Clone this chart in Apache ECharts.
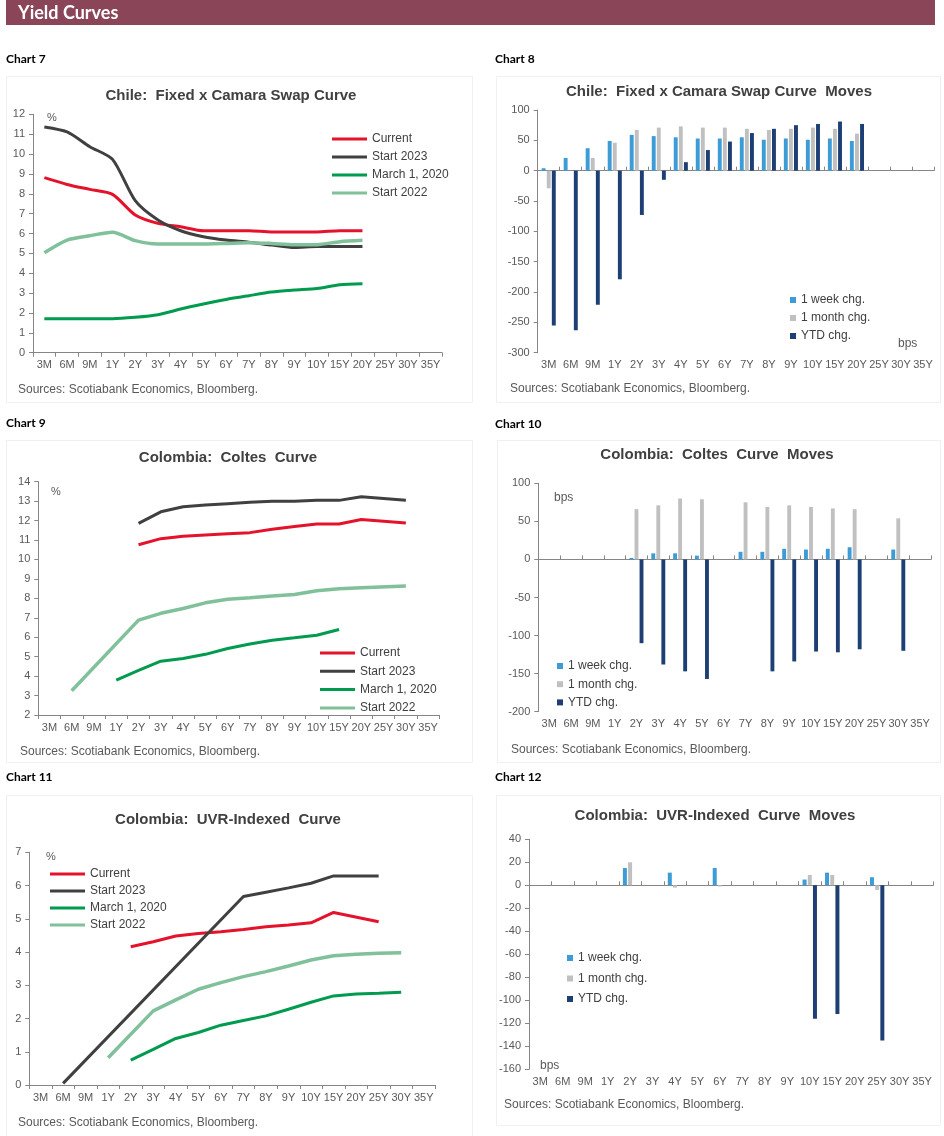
<!DOCTYPE html>
<html>
<head>
<meta charset="utf-8">
<script src="https://cdn.jsdelivr.net/npm/echarts@6/dist/echarts.min.js"></script>
<style>
html,body{margin:0;padding:0;background:#fff;}
#c{width:944px;height:1136px;}
</style>
</head>
<body>
<div id="c"></div>
<script>
// ---------- DATA ----------
const tenors = ['3M','6M','9M','1Y','2Y','3Y','4Y','5Y','6Y','7Y','8Y','9Y','10Y','15Y','20Y','25Y','30Y','35Y'];
const lineNames = ['Current','Start 2023','March 1, 2020','Start 2022'];
const barNames = ['1 week chg.','1 month chg.','YTD chg.'];

// Chart 7: Chile Fixed x Camara swap curve (%)
const chileCurrent  = [8.81,8.47,8.22,7.97,6.93,6.51,6.34,6.14,6.14,6.14,6.08,6.08,6.08,6.14,6.14];
const chileStart23  = [11.36,11.11,10.37,9.73,7.65,6.68,6.14,5.84,5.67,5.56,5.42,5.29,5.34,5.34,5.34];
const chileMarch20  = [1.71,1.71,1.71,1.71,1.78,1.91,2.2,2.45,2.68,2.87,3.05,3.15,3.23,3.42,3.47];
const chileStart22  = [5.03,5.67,5.89,6.06,5.64,5.47,5.47,5.47,5.5,5.54,5.5,5.44,5.44,5.59,5.66];

// Chart 8: Chile swap curve moves (bps)
const chileWeek  = [4,21,37,49,59,57,55,53,53,55,51,53,51,53,49];
const chileMonth = [-29,0,21,46,67,71,73,71,71,69,67,69,71,69,61];
const chileYTD   = [-255,-263,-221,-179,-73,-15,14,34,48,62,69,75,77,81,77];

// Chart 9: Colombia Coltes curve (%)
const coltesCurrent = [null,null,null,null,10.76,11.07,11.2,11.26,11.32,11.38,11.55,11.7,11.82,11.82,12.06,null,11.87];
const coltesStart23 = [null,null,null,null,11.86,12.45,12.71,12.8,12.87,12.94,12.99,13.0,13.04,13.04,13.23,null,13.04];
const coltesMarch20 = [null,null,null,3.8,4.3,4.77,4.91,5.12,5.42,5.65,5.85,5.97,6.1,6.4];
const coltesStart22 = [null,3.25,null,null,6.88,7.23,7.48,7.77,7.95,8.03,8.12,8.2,8.39,8.49,8.55,null,8.63];

// Chart 10: Coltes curve moves (bps)
const coltesWeek  = [null,null,null,null,2,8,8,5,null,10,10,14,13,14,16,null,13];
const coltesMonth = [null,null,null,null,66,71,80,79,null,75,69,71,69,67,66,null,54];
const coltesYTD   = [null,null,null,null,-110,-138,-147,-157,null,null,-147,-134,-121,-122,-118,null,-120];

// Chart 11: Colombia UVR-indexed curve (%)
const uvrCurrent = [null,null,null,null,4.16,4.31,4.48,4.56,4.61,4.68,4.76,4.81,4.88,5.19,null,4.91];
const uvrStart23 = [null,0.05,null,null,null,null,null,null,null,5.67,5.8,5.93,6.07,6.29,6.29,6.29];
const uvrMarch20 = [null,null,null,null,0.75,1.07,1.4,1.58,1.8,1.94,2.08,2.28,2.49,2.68,2.74,2.76,2.79];
const uvrStart22 = [null,null,null,0.82,null,2.23,2.56,2.88,3.08,3.26,3.41,3.58,3.76,3.89,3.93,3.96,3.98];

// Chart 12: UVR curve moves (bps)
const uvrWeek  = [null,null,null,null,15,null,11,null,15,null,null,null,5,11,null,7];
const uvrMonth = [null,null,null,null,20,null,-2,null,-1,null,null,null,9,9,null,-4];
const uvrYTD   = [null,null,null,null,null,null,null,null,null,null,null,null,-116,-112,null,-135];

// ---------- STYLE ----------
const lineColors = ['#e4132b','#404040','#009b4e','#80c09a'];
const barColors = ['#3d9bd6','#c0c0c0','#1d3f73'];
const FONT = '"Liberation Sans", Arial, sans-serif';
const axisColor = '#868686';
const labelColor = '#595959';
const textColor = '#404040';

const grids = [
  {left:33,   top:114.3, width:409,   height:238.4},
  {left:537.7,top:110,   width:396.3, height:242.7},
  {left:38.3, top:481.7, width:401,   height:233.3},
  {left:538.3,top:483.3, width:392.7, height:228.4},
  {left:29.3, top:852.3, width:405.7, height:232.7},
  {left:529,  top:839.3, width:404.3, height:230}
];

const xAxes = [];
const yAxes = [];
const series = [];
const legends = [];

function catAxis(grid, showLabel, showLine, onZero){
  return {
    type:'category', gridIndex:grid, data:tenors, boundaryGap:true,
    axisLine:{show:showLine, onZero:onZero, lineStyle:{color:axisColor,width:1}},
    axisTick:{show:showLine, alignWithLabel:false, interval:0, length:4, lineStyle:{color:axisColor}},
    axisLabel:{show:showLabel, interval:0, margin:7, color:labelColor, fontFamily:FONT, fontSize:11},
    splitLine:{show:false}
  };
}
function valAxis(grid, min, max, interval){
  return {
    type:'value', gridIndex:grid, min:min, max:max, interval:interval,
    axisLine:{show:true, lineStyle:{color:axisColor,width:1}},
    axisTick:{show:true, length:4, lineStyle:{color:axisColor}},
    axisLabel:{margin:8, color:labelColor, fontFamily:FONT, fontSize:11},
    splitLine:{show:false}
  };
}

function addLineChart(grid, min, max, interval, dataSets, smooth, legendPos){
  const xi = xAxes.length;
  xAxes.push(catAxis(grid, true, true, false));
  const yi = yAxes.length;
  yAxes.push(valAxis(grid, min, max, interval));
  dataSets.forEach((d,i)=>{
    series.push({
      type:'line', name:lineNames[i], xAxisIndex:xi, yAxisIndex:yi, data:d,
      symbol:'none', connectNulls:true, smooth:smooth,
      lineStyle:{color:lineColors[i], width: i===3 ? 3.5 : 3},
      itemStyle:{color:lineColors[i]}
    });
  });
  legends.push(Object.assign({
    orient:'vertical', icon:'rect', itemWidth:35, itemHeight:3,
    data:lineNames, selectedMode:false,
    textStyle:{color:textColor, fontFamily:FONT, fontSize:12, lineHeight:14}
  }, legendPos));
}

function addBarChart(grid, min, max, interval, dataSets, legendPos){
  const xi = xAxes.length;
  xAxes.push(catAxis(grid, true, false, false));
  xAxes.push(catAxis(grid, false, true, true));
  const yi = yAxes.length;
  yAxes.push(valAxis(grid, min, max, interval));
  dataSets.forEach((d,i)=>{
    series.push({
      type:'bar', name:barNames[i], xAxisIndex:xi, yAxisIndex:yi, data:d,
      barGap:'30%', barCategoryGap:'36%',
      itemStyle:{color:barColors[i]}
    });
  });
  legends.push(Object.assign({
    orient:'vertical', icon:'rect', itemWidth:6, itemHeight:6,
    data:barNames, selectedMode:false,
    textStyle:{color:textColor, fontFamily:FONT, fontSize:12, lineHeight:14}
  }, legendPos));
}

addLineChart(0, 0, 12, 1, [chileCurrent, chileStart23, chileMarch20, chileStart22], 0.25, {left:327, top:127, itemGap:4});
addBarChart(1, -300, 100, 50, [chileWeek, chileMonth, chileYTD], {left:785, top:288, itemGap:4});
addLineChart(2, 2, 14, 1, [coltesCurrent, coltesStart23, coltesMarch20, coltesStart22], false, {left:315, top:641, itemGap:4.3});
addBarChart(3, -200, 100, 50, [coltesWeek, coltesMonth, coltesYTD], {left:552, top:654, itemGap:4.2});
addLineChart(4, 0, 7, 1, [uvrCurrent, uvrStart23, uvrMarch20, uvrStart22], false, {left:45, top:862, itemGap:3});
addBarChart(5, -160, 40, 20, [uvrWeek, uvrMonth, uvrYTD], {left:562, top:946, itemGap:6.5});

// ---------- TEXT / DECOR ----------
function txt(x, y, s, opts){
  return {type:'text', x:x, y:y, silent:true, style:Object.assign({
    text:s, fill:textColor, font:'11px '+FONT, textAlign:'left', textVerticalAlign:'middle'
  }, opts||{})};
}
const titleFont = 'bold 15px '+FONT;
const sourceText = 'Sources: Scotiabank Economics, Bloomberg.';
const sourceFont = '12px '+FONT;
const chartLabelFont = 'bold 12px Lato, sans-serif';
const panels = [[6,76,466,326],[496,76,444,326],[6,440,466,322],[497,440,443,322],[6,795,466,341],[496,795,444,330]];

const graphic = [
  {type:'rect', shape:{x:6,y:0,width:929,height:25}, style:{fill:'#8b4558'}, silent:true},
  txt(18, 13, 'Yield Curves', {fill:'#ffffff', font:'bold 18px Lato, "Open Sans", sans-serif'}),
  txt(6, 59, 'Chart 7', {fill:'#000', font:chartLabelFont}),
  txt(495, 59, 'Chart 8', {fill:'#000', font:chartLabelFont}),
  txt(6, 423, 'Chart 9', {fill:'#000', font:chartLabelFont}),
  txt(495, 424, 'Chart 10', {fill:'#000', font:chartLabelFont}),
  txt(6, 777, 'Chart 11', {fill:'#000', font:chartLabelFont}),
  txt(495, 777, 'Chart 12', {fill:'#000', font:chartLabelFont}),
  txt(231, 96, 'Chile:  Fixed x Camara Swap Curve', {font:titleFont, textAlign:'center'}),
  txt(719, 92, 'Chile:  Fixed x Camara Swap Curve  Moves', {font:titleFont, textAlign:'center'}),
  txt(228, 458, 'Colombia:  Coltes  Curve', {font:titleFont, textAlign:'center'}),
  txt(717, 455, 'Colombia:  Coltes  Curve  Moves', {font:titleFont, textAlign:'center'}),
  txt(228, 820, 'Colombia:  UVR-Indexed  Curve', {font:titleFont, textAlign:'center'}),
  txt(715, 816, 'Colombia:  UVR-Indexed  Curve  Moves', {font:titleFont, textAlign:'center'}),
  txt(47, 118, '%', {fill:labelColor}),
  txt(898, 344, 'bps', {fill:labelColor, font:'12px '+FONT}),
  txt(51, 492, '%', {fill:labelColor}),
  txt(554, 498, 'bps', {fill:labelColor, font:'12px '+FONT}),
  txt(46, 857, '%', {fill:labelColor}),
  txt(540, 1066, 'bps', {fill:labelColor, font:'12px '+FONT}),
  txt(18, 390, sourceText, {fill:labelColor, font:sourceFont}),
  txt(510, 389, sourceText, {fill:labelColor, font:sourceFont}),
  txt(20, 752, sourceText, {fill:labelColor, font:sourceFont}),
  txt(511, 750, sourceText, {fill:labelColor, font:sourceFont}),
  txt(18, 1123, sourceText, {fill:labelColor, font:sourceFont}),
  txt(504, 1105, sourceText, {fill:labelColor, font:sourceFont})
];
panels.forEach(p=>{
  graphic.unshift({type:'rect', shape:{x:p[0]+0.5,y:p[1]+0.5,width:p[2],height:p[3]}, style:{fill:'none', stroke:'#f0f0f0', lineWidth:1}, silent:true, z:-10});
});

const chart = echarts.init(document.getElementById('c'), null, {renderer:'canvas'});
chart.setOption({
  animation:false,
  backgroundColor:'#ffffff',
  grid:grids,
  xAxis:xAxes,
  yAxis:yAxes,
  legend:legends,
  series:series,
  graphic:graphic
});
</script>
</body>
</html>
